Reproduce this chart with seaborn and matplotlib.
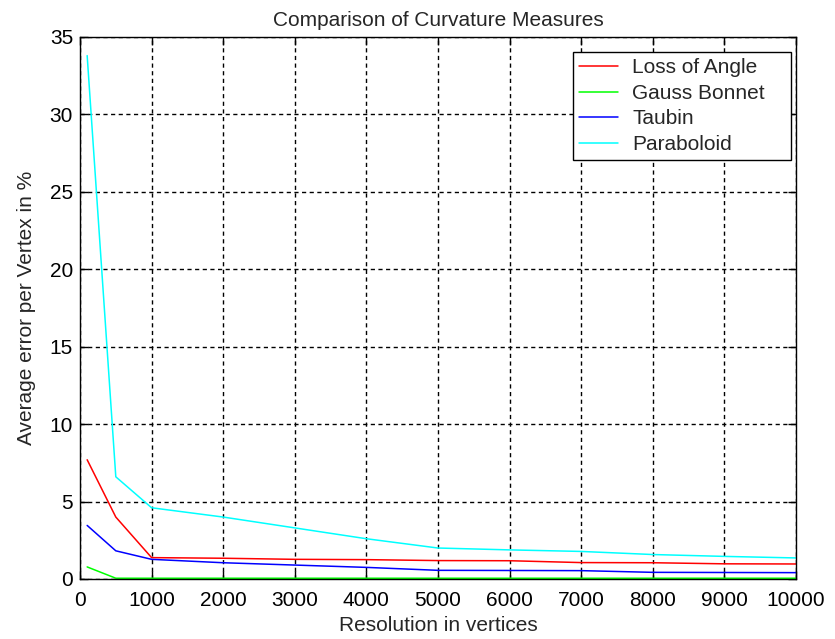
import matplotlib
matplotlib.use("Agg")
import matplotlib.pyplot as plt
import seaborn as sns
import pandas as pd

# Mesh resolutions (number of vertices)
resolution = [100, 500, 1000, 2000, 3000, 4000, 5000, 6000, 7000, 8000, 9000, 10000]

# Average error per vertex (%) for each curvature estimator
loss_of_angle = [7.7, 4.0, 1.38, 1.34, 1.27, 1.25, 1.19, 1.18, 1.06, 1.05, 0.98, 0.97]
gauss_bonnet = [0.78, 0.05, 0.05, 0.05, 0.05, 0.05, 0.05, 0.05, 0.05, 0.05, 0.05, 0.05]
taubin = [3.46, 1.82, 1.27, 1.05, 0.9, 0.75, 0.56, 0.55, 0.54, 0.43, 0.42, 0.41]
paraboloid = [33.8, 6.6, 4.6, 4.0, 3.3, 2.6, 2.0, 1.88, 1.78, 1.58, 1.46, 1.36]

methods = ["Loss of Angle", "Gauss Bonnet", "Taubin", "Paraboloid"]
colors = ["#ff0000", "#00ff00", "#0000ff", "#00ffff"]

xticks = [0, 1000, 2000, 3000, 4000, 5000, 6000, 7000, 8000, 9000, 10000]
yticks = [0, 5, 10, 15, 20, 25, 30, 35]

series = {
    "Loss of Angle": loss_of_angle,
    "Gauss Bonnet": gauss_bonnet,
    "Taubin": taubin,
    "Paraboloid": paraboloid,
}
df = pd.concat(
    [pd.DataFrame({"Resolution": resolution, "Error": vals, "Method": name})
     for name, vals in series.items()],
    ignore_index=True,
)

sns.set_style("ticks")
plt.rcParams["font.family"] = ["Liberation Sans", "DejaVu Sans"]
FS = 15
plt.rcParams["font.size"] = FS

fig = plt.figure(figsize=(8.35, 6.39), dpi=100)
ax = fig.add_axes([80 / 835, 1 - 579 / 639, (796 - 80) / 835, (579 - 37) / 639])

sns.lineplot(data=df, x="Resolution", y="Error", hue="Method",
             hue_order=methods, palette=colors, linewidth=1.1, ax=ax,
             legend=False)

ax.set_xlim(0, 10000)
ax.set_ylim(0, 35)
ax.set_xticks(xticks)
ax.set_yticks(yticks)
ax.set_xticklabels([str(t) for t in xticks], fontsize=FS)
ax.set_yticklabels([str(t) for t in yticks], fontsize=FS)

ax.grid(True, color="black", linestyle=(0, (3, 2.5)), linewidth=1.0)
ax.set_axisbelow(True)
for sp in ax.spines.values():
    sp.set_visible(True)
    sp.set_color("black")
    sp.set_linewidth(1.0)
ax.tick_params(direction="in", length=6, width=1, top=True, right=True,
               colors="black")
ax.tick_params(axis="x", pad=9)
ax.tick_params(axis="y", pad=5)

ax.set_title("Comparison of Curvature Measures", fontsize=FS, pad=8)
ax.set_xlabel("Resolution in vertices", fontsize=FS, labelpad=4)
ax.set_ylabel("Average error per Vertex in %", fontsize=FS, labelpad=10)

handles = [plt.Line2D([0], [0], color=c, linewidth=1.1) for c in colors]
leg = ax.legend(handles, methods, loc="upper right", mode="expand",
                bbox_to_anchor=(0.6885, 0.5, 0.3045, 0.472), fontsize=FS,
                frameon=True, fancybox=False, framealpha=1,
                edgecolor="black", handlelength=1.85, handletextpad=0.7,
                borderpad=0.3, labelspacing=0.31, borderaxespad=0.0)
leg.get_frame().set_linewidth(1.0)

fig.savefig("out.png", dpi=100, facecolor="white")
